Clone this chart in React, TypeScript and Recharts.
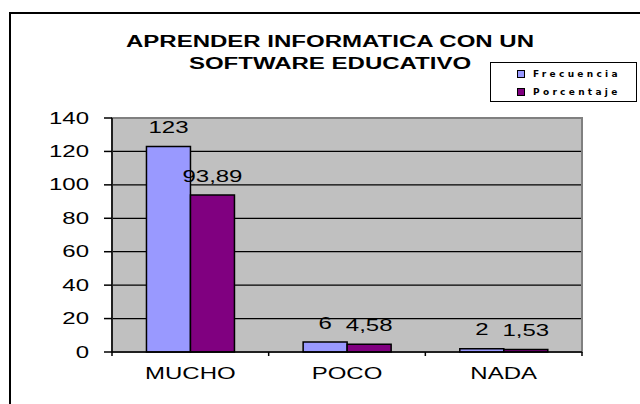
import { BarChart, Bar, XAxis, YAxis, CartesianGrid, LabelList, Legend, ReferenceArea } from "recharts"

const categories = ["MUCHO", "POCO", "NADA"]
const frecuencia = [123, 6, 2]
const porcentaje = [93.89, 4.58, 1.53]
const yTicks = [0, 20, 40, 60, 80, 100, 120, 140]
const titleLines = ["APRENDER INFORMATICA CON UN", "SOFTWARE EDUCATIVO"]

const data = categories.map((name, i) => ({
  name,
  frecuencia: frecuencia[i],
  porcentaje: porcentaje[i],
}))

const W = 640
const H = 404
const MARGIN = { top: 118, right: 58, left: 0, bottom: 0 }
const Y_AXIS_W = 112
const X_AXIS_H = 52
const PLOT_W = W - MARGIN.left - MARGIN.right - Y_AXIS_W
// the source picture is stretched sideways, so text is too
const SX = 1.5
const FONT = "'Liberation Sans', Arial, sans-serif"

const fmt = (v: number) => String(v).replace(".", ",")

const YTick = (props: any) => {
  const { x, y, payload } = props
  return (
    <text
      transform={`translate(${x} ${y}) scale(${SX} 1)`}
      textAnchor="end"
      dy="0.35em"
      fontSize={16}
      fontFamily={FONT}
      fill="#000"
    >
      {payload.value}
    </text>
  )
}

const XTick = (props: any) => {
  const { x, y, payload, index } = props
  const half = PLOT_W / categories.length / 2
  return (
    <g>
      <line x1={x - half} x2={x - half} y1={y} y2={y + 4} stroke="#000" strokeWidth={1.5} />
      {index === categories.length - 1 && (
        <line x1={x + half} x2={x + half} y1={y} y2={y + 4} stroke="#000" strokeWidth={1.5} />
      )}
      <text
        transform={`translate(${x} ${y + 21}) scale(${SX} 1)`}
        textAnchor="middle"
        dy="0.35em"
        fontSize={16}
        fontFamily={FONT}
        fill="#000"
      >
        {payload.value}
      </text>
    </g>
  )
}

const ValueLabel = (props: any) => {
  const { x, y, width, value } = props
  return (
    <text
      transform={`translate(${x + width / 2} ${y - 19}) scale(${SX} 1)`}
      textAnchor="middle"
      dy="0.35em"
      fontSize={16}
      fontFamily={FONT}
      fill="#000"
    >
      {fmt(value)}
    </text>
  )
}

const LegendBox = (props: any) => {
  const items = props.payload || []
  return (
    <div
      style={{
        boxSizing: "border-box",
        width: 147,
        height: 40,
        border: "1.5px solid #000",
        background: "#fff",
        paddingTop: 2,
      }}
    >
      {items.map((it: any) => (
        <div key={it.value} style={{ display: "flex", alignItems: "center", height: 18, paddingLeft: 26 }}>
          <span
            style={{
              display: "inline-block",
              width: 6,
              height: 6,
              background: it.color,
              border: "1px solid #000",
              marginRight: 8,
            }}
          />
          <span
            style={{
              fontFamily: "'DejaVu Sans', sans-serif",
              fontWeight: "bold",
              fontSize: 9,
              letterSpacing: 3.3,
              color: "#000",
            }}
          >
            {it.value}
          </span>
        </div>
      ))}
    </div>
  )
}

export default function App() {
  return (
    <div
      style={{
        position: "absolute",
        left: 0,
        top: 0,
        width: W,
        height: H,
        overflow: "hidden",
        background: "#fff",
      }}
    >
      <div
        style={{
          position: "absolute",
          left: 9,
          top: 12,
          width: 700,
          height: 500,
          border: "2px solid #000",
        }}
      />
      <div style={{ position: "absolute", left: 0, top: 0 }}>
        <BarChart width={W} height={H} data={data} margin={MARGIN} barCategoryGap="22%" barGap={0}>
          <CartesianGrid
            vertical={false}
            stroke="#000"
            strokeWidth={1.2}
            fill="#C0C0C0"
            fillOpacity={1}
            horizontalValues={yTicks.slice(1, -1)}
          />
          <ReferenceArea y1={0} y2={140} fill="none" stroke="#808080" strokeWidth={2} ifOverflow="visible" />
          <XAxis
            dataKey="name"
            height={X_AXIS_H}
            axisLine={{ stroke: "#000", strokeWidth: 1.5 }}
            tickLine={false}
            tickSize={0}
            tickMargin={0}
            tick={<XTick />}
            interval={0}
          />
          <YAxis
            width={Y_AXIS_W}
            domain={[0, 140]}
            ticks={yTicks}
            interval={0}
            axisLine={{ stroke: "#000", strokeWidth: 1.5 }}
            tickLine={{ stroke: "#000", strokeWidth: 1.5 }}
            tickSize={8}
            tickMargin={15}
            tick={<YTick />}
          />
          <Legend
            layout="vertical"
            align="center"
            verticalAlign="middle"
            wrapperStyle={{ left: 490, top: 62, width: 147, height: 40 }}
            content={<LegendBox />}
          />
          <Bar dataKey="frecuencia" name="Frecuencia" fill="#9999FF" stroke="#000" strokeWidth={1.5} isAnimationActive={false}>
            <LabelList dataKey="frecuencia" content={<ValueLabel />} />
          </Bar>
          <Bar dataKey="porcentaje" name="Porcentaje" fill="#800080" stroke="#000" strokeWidth={1.5} isAnimationActive={false}>
            <LabelList dataKey="porcentaje" content={<ValueLabel />} />
          </Bar>
        </BarChart>
      </div>
      {titleLines.map((line, i) => (
        <div
          key={line}
          style={{
            position: "absolute",
            left: 0,
            width: 660,
            top: 31 + i * 22,
            height: 22,
            lineHeight: "22px",
            textAlign: "center",
            fontFamily: FONT,
            fontWeight: "bold",
            fontSize: 16,
            color: "#000",
            transform: `scaleX(${SX})`,
            transformOrigin: "330px 0",
            whiteSpace: "nowrap",
          }}
        >
          {line}
        </div>
      ))}
    </div>
  )
}
